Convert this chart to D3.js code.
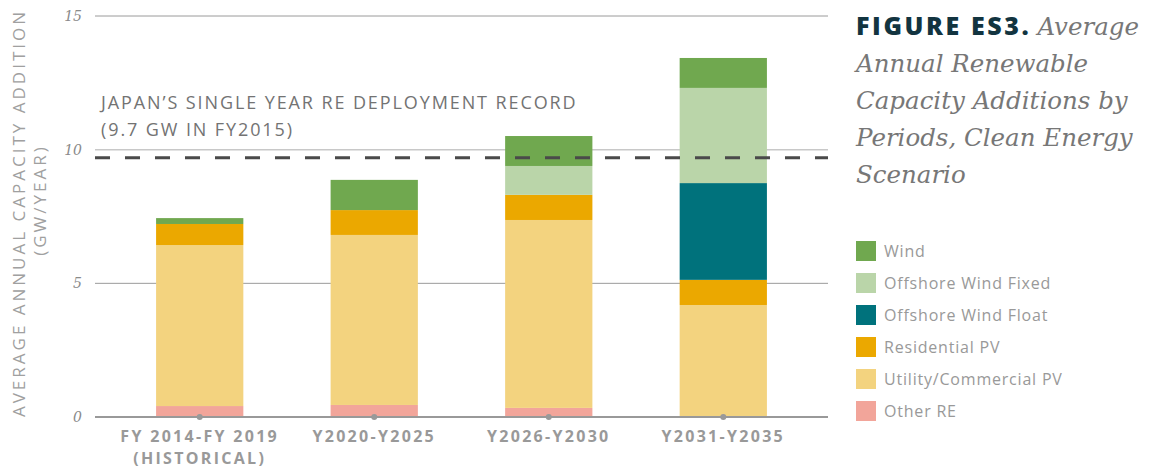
<!DOCTYPE html>
<html>
<head>
<meta charset="utf-8">
<script src="https://cdn.jsdelivr.net/npm/d3@7"></script>
<style>
  body { margin: 0; background: #fff; }
  svg text { font-family: "Open Sans", "Lato", sans-serif; }
</style>
</head>
<body>
<div id="plot"></div>
<script>
// data
const periods = ["FY 2014-FY 2019|(HISTORICAL)", "Y2020-Y2025", "Y2026-Y2030", "Y2031-Y2035"];
const series = ["Other RE", "Utility/Commercial PV", "Residential PV", "Offshore Wind Float", "Offshore Wind Fixed", "Wind"];
const colors = ["#f2a59a", "#f3d37f", "#eba800", "#00727c", "#bad5a9", "#70a84f"];
const otherRE = [0.41, 0.45, 0.34, 0];
const utilityPV = [6.02, 6.36, 7.03, 4.19];
const residentialPV = [0.79, 0.93, 0.94, 0.94];
const offshoreFloat = [0, 0, 0, 3.62];
const offshoreFixed = [0, 0, 1.08, 3.56];
const wind = [0.22, 1.13, 1.12, 1.12];
const yTicks = [0, 5, 10, 15];
const record = 9.7;

const w = 1154, h = 469;
const margin = {top: 16, right: 326, bottom: 52, left: 95};

const rows = periods.map((p, i) => ({
  period: p,
  "Other RE": otherRE[i],
  "Utility/Commercial PV": utilityPV[i],
  "Residential PV": residentialPV[i],
  "Offshore Wind Float": offshoreFloat[i],
  "Offshore Wind Fixed": offshoreFixed[i],
  "Wind": wind[i]
}));

const stack = d3.stack().keys(series)(rows);

const xScale = d3.scaleBand()
    .domain(periods)
    .range([margin.left, w - margin.right])
    .paddingInner(0.5)
    .paddingOuter(0.35);

const yScale = d3.scaleLinear()
    .domain([0, 15])
    .range([h - margin.bottom, margin.top]);

const color = d3.scaleOrdinal().domain(series).range(colors);

const svg = d3.select("#plot")
  .append("svg")
    .attr("width", w)
    .attr("height", h);

// gridlines
svg.append("g")
  .selectAll("line")
  .data(yTicks.filter(d => d > 0))
  .enter().append("line")
    .attr("x1", margin.left)
    .attr("x2", w - margin.right)
    .attr("y1", d => yScale(d))
    .attr("y2", d => yScale(d))
    .attr("stroke", d => d === 10 ? "#c8c8c8" : "#9a9a9a")
    .attr("stroke-width", d => d === 10 ? 1.5 : 1);

// tick labels
svg.append("g")
  .selectAll("text")
  .data(yTicks)
  .enter().append("text")
    .attr("x", 82)
    .attr("y", d => yScale(d) + 5)
    .attr("text-anchor", "end")
    .style("font-family", "'DejaVu Serif', serif")
    .style("font-style", "italic")
    .style("font-size", "14px")
    .attr("fill", "#8a8a8a")
    .text(d => d);

// bars
svg.append("g")
  .selectAll("g")
  .data(stack)
  .enter().append("g")
    .attr("fill", d => color(d.key))
  .selectAll("rect")
  .data(d => d)
  .enter().append("rect")
    .attr("x", d => xScale(d.data.period))
    .attr("y", d => yScale(d[1]))
    .attr("width", xScale.bandwidth())
    .attr("height", d => yScale(d[0]) - yScale(d[1]));

// baseline
svg.append("line")
    .attr("x1", margin.left)
    .attr("x2", w - margin.right)
    .attr("y1", yScale(0))
    .attr("y2", yScale(0))
    .attr("stroke", "#999")
    .attr("stroke-width", 2);

svg.append("g")
  .selectAll("circle")
  .data(periods)
  .enter().append("circle")
    .attr("cx", d => xScale(d) + xScale.bandwidth() / 2)
    .attr("cy", yScale(0))
    .attr("r", 3)
    .attr("fill", "#999");

// record line
svg.append("line")
    .attr("x1", margin.left)
    .attr("x2", w - margin.right)
    .attr("y1", yScale(record))
    .attr("y2", yScale(record))
    .attr("stroke", "#4a4a4a")
    .attr("stroke-width", 3)
    .attr("stroke-dasharray", "15,15");

const note = svg.append("text")
    .attr("x", 101)
    .attr("y", 109)
    .attr("fill", "#737373")
    .style("font-size", "18px")
    .style("letter-spacing", "1.9px");
note.append("tspan").attr("x", 101).text("JAPAN\u2019S SINGLE YEAR RE DEPLOYMENT RECORD");
note.append("tspan").attr("x", 101).attr("dy", 27).text("(9.7 GW IN FY2015)");

// x labels, one text per line
const xLines = periods.flatMap(p => p.split("|").map((t, i) => ({p, t, i})));
svg.append("g")
  .selectAll("text")
  .data(xLines)
  .enter().append("text")
    .attr("x", d => xScale(d.p) + xScale.bandwidth() / 2)
    .attr("y", d => 442 + d.i * 22)
    .attr("text-anchor", "middle")
    .attr("fill", "#999")
    .style("font-size", "16px")
    .style("font-weight", "bold")
    .style("letter-spacing", "2.3px")
    .text(d => d.t);

// y axis title
svg.append("text")
    .attr("transform", "translate(25,213) rotate(-90)")
    .attr("text-anchor", "middle")
    .attr("fill", "#a0a0a0")
    .style("font-size", "17px")
    .style("letter-spacing", "3px")
    .text("AVERAGE ANNUAL CAPACITY ADDITION");
svg.append("text")
    .attr("transform", "translate(46,200) rotate(-90)")
    .attr("text-anchor", "middle")
    .attr("fill", "#a0a0a0")
    .style("font-size", "17px")
    .style("letter-spacing", "3px")
    .text("(GW/YEAR)");

// title
const title = svg.append("text")
    .attr("x", 856)
    .attr("y", 35)
    .attr("fill", "#777");
title.append("tspan")
    .attr("fill", "#123440")
    .style("font-weight", "800")
    .style("font-size", "25px")
    .style("letter-spacing", "2.6px")
    .text("FIGURE ES3.");
const titleLines = ["Average", "Annual Renewable", "Capacity Additions by", "Periods, Clean Energy", "Scenario"];
titleLines.forEach((t, i) => {
  title.append("tspan")
    .attr("x", i ? 856 : null)
    .attr("dx", i ? 0 : 6)
    .attr("dy", i ? 37 : 0)
    .style("font-family", "'DejaVu Serif', serif")
    .style("font-style", "italic")
    .style("font-size", "24.5px")
    .text(t);
});

// legend
const legend = svg.append("g")
  .selectAll("g")
  .data(series.slice().reverse())
  .enter().append("g")
    .attr("transform", (d, i) => `translate(856, ${241 + i * 32})`);
legend.append("rect")
    .attr("width", 20)
    .attr("height", 20)
    .attr("fill", d => color(d));
legend.append("text")
    .attr("x", 28)
    .attr("y", 16)
    .attr("fill", "#999")
    .style("font-size", "16px")
    .style("letter-spacing", "0.8px")
    .text(d => d);
</script>
</body>
</html>
